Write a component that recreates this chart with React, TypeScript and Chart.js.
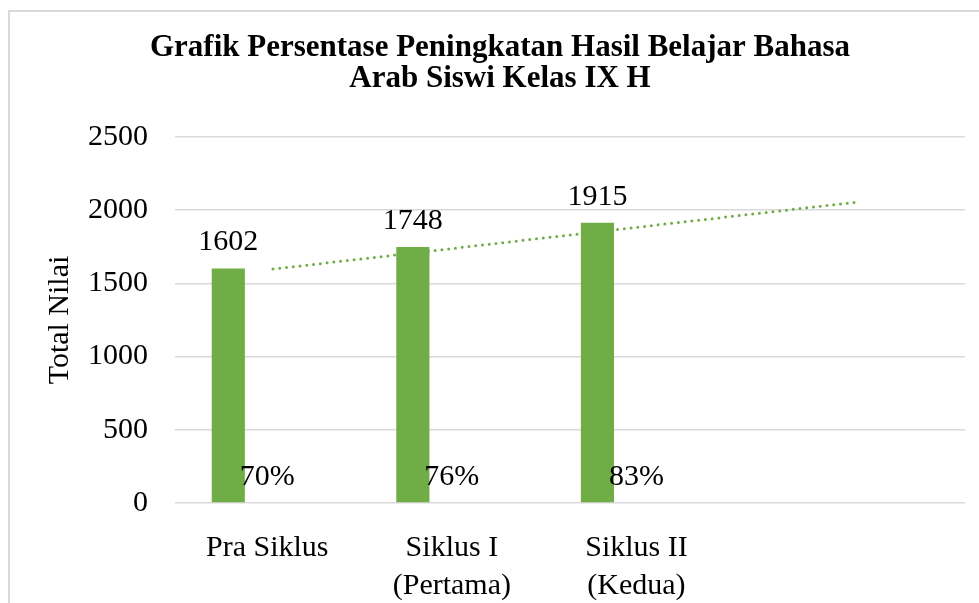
import React, { useEffect, useRef } from 'react';
import { Chart, registerables } from 'chart.js';

Chart.register(...registerables);

// ---- data ----
const categories: (string | string[])[] = ['Pra Siklus', ['Siklus I', '(Pertama)'], ['Siklus II', '(Kedua)']];
const categoryPositions = [0.5, 1.5, 2.5];
const totalNilai = [1602, 1748, 1915];
const persentase = [0.7, 0.76, 0.83];
const placeholderSeries = [0, 0, 0];
const trendX = [0.531, 3.711];
const trendY = [1598, 2058];
const yTicks = [0, 500, 1000, 1500, 2000, 2500];
const xMax = 4.28;
const titleLines = ['Grafik Persentase Peningkatan Hasil Belajar Bahasa', 'Arab Siswi Kelas IX H'];

const GREEN = '#70ad47';
const SERIF = "'Liberation Serif', 'Times New Roman', serif";

const labelPlugin = {
  id: 'valueLabels',
  afterDatasetsDraw(chart: any) {
    const ctx = chart.ctx;
    ctx.save();
    ctx.font = `30px ${SERIF}`;
    ctx.fillStyle = '#000';
    ctx.textAlign = 'center';
    ctx.textBaseline = 'alphabetic';
    [0, 1].forEach((di) => {
      const meta = chart.getDatasetMeta(di);
      const ds = chart.data.datasets[di];
      meta.data.forEach((el: any, i: number) => {
        const raw = (ds.data[i] as any).y;
        const text = di === 1 ? `${Math.round(raw * 100)}%` : String(raw);
        ctx.fillText(text, el.x, el.y - 18);
      });
    });
    ctx.restore();
  },
};

export default function App() {
  const canvasRef = useRef<HTMLCanvasElement | null>(null);

  useEffect(() => {
    if (!canvasRef.current) return;
    const font = { family: SERIF, size: 30 };
    const chart = new Chart(canvasRef.current, {
      type: 'bar',
      data: {
        datasets: [
          {
            label: 'Total Nilai',
            data: categoryPositions.map((x, i) => ({ x, y: totalNilai[i] })),
            backgroundColor: GREEN,
            order: 2,
          },
          {
            label: 'Persentase',
            data: categoryPositions.map((x, i) => ({ x, y: persentase[i] })),
            backgroundColor: 'rgba(112,173,71,0)',
            order: 2,
          },
          {
            label: '',
            data: categoryPositions.map((x, i) => ({ x, y: placeholderSeries[i] })),
            backgroundColor: 'rgba(0,0,0,0)',
            order: 2,
          },
          {
            type: 'line',
            label: 'Trend',
            data: trendX.map((x, i) => ({ x, y: trendY[i] })),
            borderColor: GREEN,
            borderWidth: 3,
            borderDash: [0, 6.8],
            borderCapStyle: 'round',
            pointRadius: 0,
            fill: false,
            order: 0,
          } as any,
        ],
      },
      options: {
        responsive: false,
        animation: false,
        layout: { padding: { left: 25, right: 14, top: 0, bottom: 0 } },
        datasets: {
          bar: { categoryPercentage: 0.634, barPercentage: 0.85 },
        },
        plugins: {
          legend: { display: false },
          tooltip: { enabled: false },
          title: {
            display: true,
            text: titleLines,
            color: '#000',
            font: { family: SERIF, size: 31, weight: 'bold', lineHeight: 1.0 },
            padding: { top: 20, bottom: 43 },
          },
        },
        scales: {
          x: {
            type: 'linear',
            offset: false,
            min: 0,
            max: xMax,
            grid: { display: false },
            border: { display: false },
            afterBuildTicks: (s: any) => {
              s.ticks = categoryPositions.map((v) => ({ value: v }));
            },
            afterFit: (s: any) => {
              s.height = 100;
            },
            ticks: {
              autoSkip: false,
              maxRotation: 0,
              color: '#000',
              padding: 18,
              font: { family: SERIF, size: 30, lineHeight: '38px' as any },
              callback: (_v: any, i: number) => categories[i] as any,
            },
          },
          y: {
            min: 0,
            max: 2500,
            afterBuildTicks: (s: any) => {
              s.ticks = yTicks.map((v) => ({ value: v }));
            },
            afterFit: (s: any) => {
              s.width = 140;
            },
            grid: { color: '#d9d9d9', lineWidth: 1.6, drawTicks: false },
            border: { display: false },
            ticks: { color: '#000', padding: 27, font, callback: (v: any) => String(v) },
            title: {
              display: true,
              text: 'Total Nilai',
              color: '#000',
              font,
              padding: { top: 7.5, bottom: 0 },
            },
          },
        },
      } as any,
      plugins: [labelPlugin],
    });
    return () => chart.destroy();
  }, []);

  return (
    <div
      style={{
        position: 'absolute',
        left: 8,
        top: 10,
        width: 969,
        height: 591,
        borderLeft: '2px solid #d9d9d9',
        borderTop: '2px solid #d9d9d9',
        background: '#fff',
      }}
    >
      <canvas ref={canvasRef} width={969} height={591} style={{ display: 'block' }} />
    </div>
  );
}
